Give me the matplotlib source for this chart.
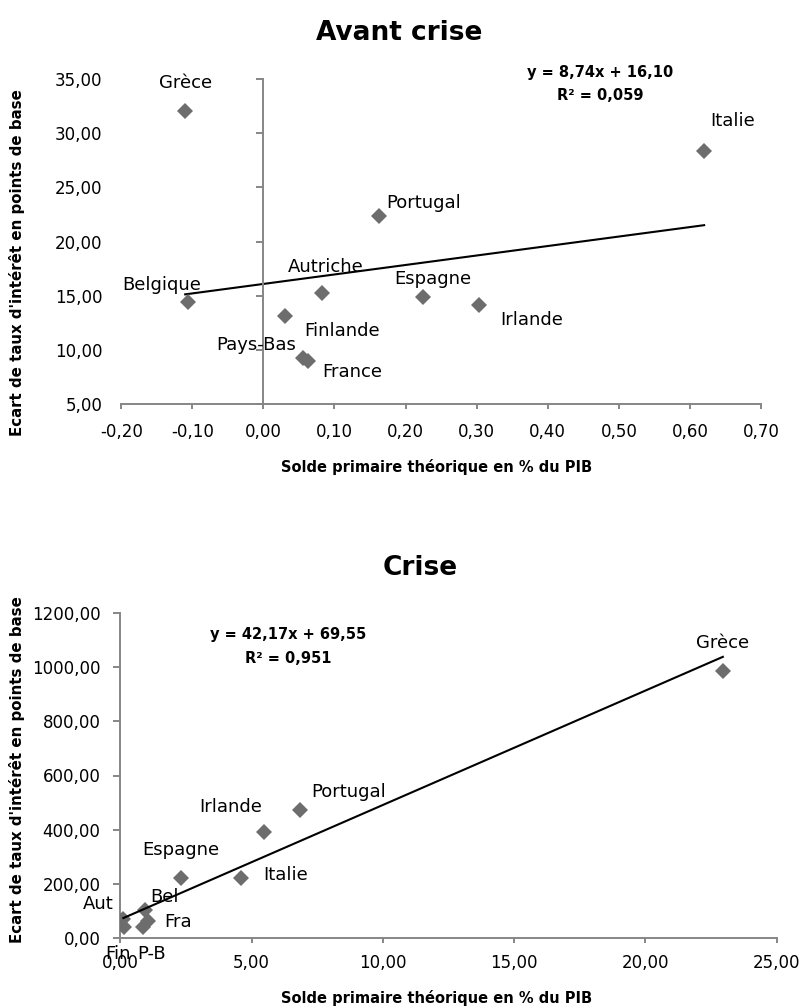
import matplotlib
matplotlib.use("Agg")
import matplotlib.pyplot as plt
import numpy as np
from matplotlib.ticker import FuncFormatter, MultipleLocator

# ---------------- data ----------------
avant_pays = ["Grèce", "Italie", "Portugal", "Autriche", "Belgique",
              "Espagne", "Irlande", "Finlande", "Pays-Bas", "France"]
avant_solde = [-0.110, 0.620, 0.163, 0.082, -0.106, 0.224, 0.303, 0.030, 0.056, 0.063]
avant_ecart = [32.08, 28.39, 22.33, 15.25, 14.39, 14.91, 14.17, 13.15, 9.31, 9.03]
avant_pente, avant_const, avant_r2 = 8.74, 16.10, 0.059

crise_pays = ["Grèce", "Portugal", "Irlande", "Espagne", "Italie",
              "Aut", "Bel", "Fra", "Fin", "P-B"]
crise_solde = [22.95, 6.83, 5.47, 2.31, 4.61, 0.12, 0.94, 1.07, 0.14, 0.88]
crise_ecart = [985.6, 472.5, 392.7, 223.0, 221.0, 70.0, 104.0, 63.7, 42.7, 42.7]
crise_pente, crise_const, crise_r2 = 42.17, 69.55, 0.951

titre_avant = "Avant crise"
titre_crise = "Crise"
xlabel = "Solde primaire théorique en % du PIB"
ylabel = "Ecart de taux d'intérêt en points de base"

# ---------------- layout (label offsets in pixels) ----------------
avant_offsets = [(0, 23, "center"), (6, 25, "left"), (7, 8, "left"), (4, 21, "center"),
                 (-26, 12, "center"), (10, 13, "center"), (21, -20, "left"),
                 (20, -20, "left"), (-7, 8, "right"), (14, -16, "left")]
crise_offsets = [(0, 23, "center"), (12, 13, "left"), (-2, 20, "right"), (0, 23, "center"),
                 (22, -2, "left"), (-10, 10, "right"), (5, 8, "left"), (16, -6, "left"),
                 (-19, -32, "left"), (-6, -32, "left")]

W, H = 802, 1006
GREY = "#868686"
MARK = "#6d6d6d"
plt.rcParams["font.family"] = ["DejaVu Sans"]

fig = plt.figure(figsize=(W / 100, H / 100), dpi=100)


def fr(v, pos=None):
    s = f"{v:.2f}".replace(".", ",")
    if s == "-0,00":
        s = "0,00"
    return s


def style(ax, ypad):
    for s in ("top", "right"):
        ax.spines[s].set_visible(False)
    for s in ("left", "bottom"):
        ax.spines[s].set_color(GREY)
        ax.spines[s].set_linewidth(1.4)
    ax.xaxis.set_major_formatter(FuncFormatter(fr))
    ax.yaxis.set_major_formatter(FuncFormatter(fr))
    ax.tick_params(axis="x", direction="out", length=3.6, width=1.4, color=GREY,
                   labelsize=12, pad=10)
    ax.tick_params(axis="y", direction="out", length=4.8, width=1.4, color=GREY,
                   labelsize=12, pad=ypad)
    ax.patch.set_alpha(0)


def fx(px):
    return px / W


def fy(py):
    return 1 - py / H


# ---------------- Avant crise ----------------
ax1 = fig.add_axes([fx(121.2), fy(404.3), fx(761.0) - fx(121.2), fy(79.0) - fy(404.3)])
ax1.set_xlim(-0.2, 0.7)
ax1.set_ylim(5, 35)
ax1.xaxis.set_major_locator(MultipleLocator(0.1))
ax1.yaxis.set_major_locator(MultipleLocator(5))
ax1.spines["left"].set_position(("data", 0))
style(ax1, 111)

ax1.plot(avant_solde, avant_ecart, linestyle="none", marker="D", ms=8,
         color=MARK, mew=0, zorder=3)
xs = np.array([min(avant_solde), max(avant_solde)])
ax1.plot(xs, avant_pente * xs + avant_const, color="black", lw=1.5, zorder=2)
for name, x, y, (dx, dy, ha) in zip(avant_pays, avant_solde, avant_ecart, avant_offsets):
    ax1.annotate(name, (x, y), xytext=(dx, dy), textcoords="offset pixels",
                 ha=ha, va="baseline", fontsize=13, zorder=4)

fig.text(fx(399.5), fy(40), titre_avant, ha="center", va="baseline",
         fontsize=19, fontweight="bold")
fig.text(fx(600.5), fy(76.7), f"y = {avant_pente:.2f}x + {avant_const:.2f}".replace(".", ","),
         ha="center", va="baseline", fontsize=10.5, fontweight="bold")
fig.text(fx(600.5), fy(100), f"R² = {avant_r2:.3f}".replace(".", ","),
         ha="center", va="baseline", fontsize=10.5, fontweight="bold")
fig.text(fx(437), fy(467), xlabel, ha="center", va="center", fontsize=10.5,
         fontweight="bold")
fig.text(fx(17.5), fy(262.5), ylabel, ha="center", va="center", rotation=90,
         fontsize=10.8, fontweight="bold")

# ---------------- Crise ----------------
ax2 = fig.add_axes([fx(120.2), fy(938.3), fx(776.7) - fx(120.2), fy(612.7) - fy(938.3)])
ax2.set_xlim(0, 25)
ax2.set_ylim(0, 1200)
ax2.xaxis.set_major_locator(MultipleLocator(5))
ax2.yaxis.set_major_locator(MultipleLocator(200))
style(ax2, 9.5)
ax2.tick_params(axis="x", pad=8)

ax2.plot(crise_solde, crise_ecart, linestyle="none", marker="D", ms=8,
         color=MARK, mew=0, zorder=3)
xs2 = np.array([min(crise_solde), max(crise_solde)])
ax2.plot(xs2, crise_pente * xs2 + crise_const, color="black", lw=1.5, zorder=4)
for name, x, y, (dx, dy, ha) in zip(crise_pays, crise_solde, crise_ecart, crise_offsets):
    ax2.annotate(name, (x, y), xytext=(dx, dy), textcoords="offset pixels",
                 ha=ha, va="baseline", fontsize=13, zorder=2, annotation_clip=False)

fig.text(fx(420.5), fy(575), titre_crise, ha="center", va="baseline",
         fontsize=19, fontweight="bold")
fig.text(fx(288), fy(639), f"y = {crise_pente:.2f}x + {crise_const:.2f}".replace(".", ","),
         ha="center", va="baseline", fontsize=10.5, fontweight="bold")
fig.text(fx(288), fy(663.3), f"R² = {crise_r2:.3f}".replace(".", ","),
         ha="center", va="baseline", fontsize=10.5, fontweight="bold")
fig.text(fx(437), fy(1003), xlabel, ha="center", va="baseline", fontsize=10.5,
         fontweight="bold")
fig.text(fx(17.5), fy(770), ylabel, ha="center", va="center", rotation=90,
         fontsize=10.8, fontweight="bold")

fig.savefig("out.png", dpi=100)
